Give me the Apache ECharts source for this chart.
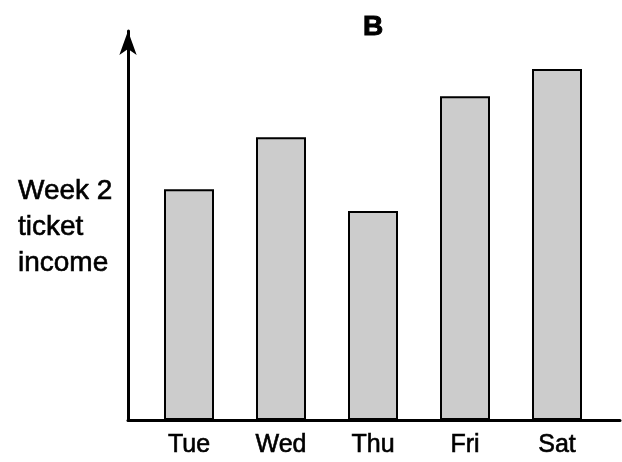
<!DOCTYPE html>
<html>
<head>
<meta charset="utf-8">
<script src="https://cdn.jsdelivr.net/npm/echarts@6/dist/echarts.min.js"></script>
<style>
html,body{margin:0;padding:0;background:#fff;}
#chart{width:622px;height:462px;}
</style>
</head>
<body>
<div id="chart"></div>
<script>
const chartTitle = 'B';
const yLabel = 'Week 2\nticket\nincome';
const categories = ['Tue', 'Wed', 'Thu', 'Fri', 'Sat'];
const values = [59.3, 72.7, 53.7, 83.2, 90.2];

const FONT = '"Liberation Sans", Arial, sans-serif';
const chart = echarts.init(document.getElementById('chart'));
chart.setOption({
  animation: false,
  backgroundColor: '#ffffff',
  title: [
    { text: chartTitle, left: 358, top: 8,
      textStyle: { fontFamily: FONT, fontSize: 28, fontWeight: 'bold', color: '#000',
        textBorderColor: '#000', textBorderWidth: 1 } },
    { text: yLabel, left: 13, top: 168,
      textStyle: { fontFamily: FONT, fontSize: 28, fontWeight: 'normal', color: '#000', lineHeight: 36,
        textBorderColor: '#000', textBorderWidth: 0.6 } }
  ],
  grid: [
    { left: 128, right: 2, top: 31, bottom: 42 },
    { left: 143, width: 460, top: 31, bottom: 42 }
  ],
  xAxis: [
    { type: 'value', gridIndex: 0, min: 0, max: 1,
      axisLine: { show: true, lineStyle: { color: '#000', width: 3 } },
      axisTick: { show: false }, axisLabel: { show: false }, splitLine: { show: false } },
    { type: 'category', gridIndex: 1, data: categories,
      axisLine: { show: false }, axisTick: { show: false }, splitLine: { show: false },
      axisLabel: { fontFamily: FONT, fontSize: 25, color: '#000', margin: 13,
        textBorderColor: '#000', textBorderWidth: 0.6 } }
  ],
  yAxis: [
    { type: 'value', gridIndex: 0, min: 0, max: 100,
      axisLine: { show: true, symbol: ['none', 'arrow'], symbolSize: [13, 24],
        lineStyle: { color: '#000', width: 3 } },
      axisTick: { show: false }, axisLabel: { show: false }, splitLine: { show: false } },
    { type: 'value', gridIndex: 1, min: 0, max: 100, show: false,
      splitLine: { show: false } }
  ],
  series: [{
    type: 'bar', xAxisIndex: 1, yAxisIndex: 1, data: values,
    barWidth: 50,
    itemStyle: { color: '#cccccc', borderColor: '#000', borderWidth: 2 }
  }]
});
</script>
</body>
</html>
